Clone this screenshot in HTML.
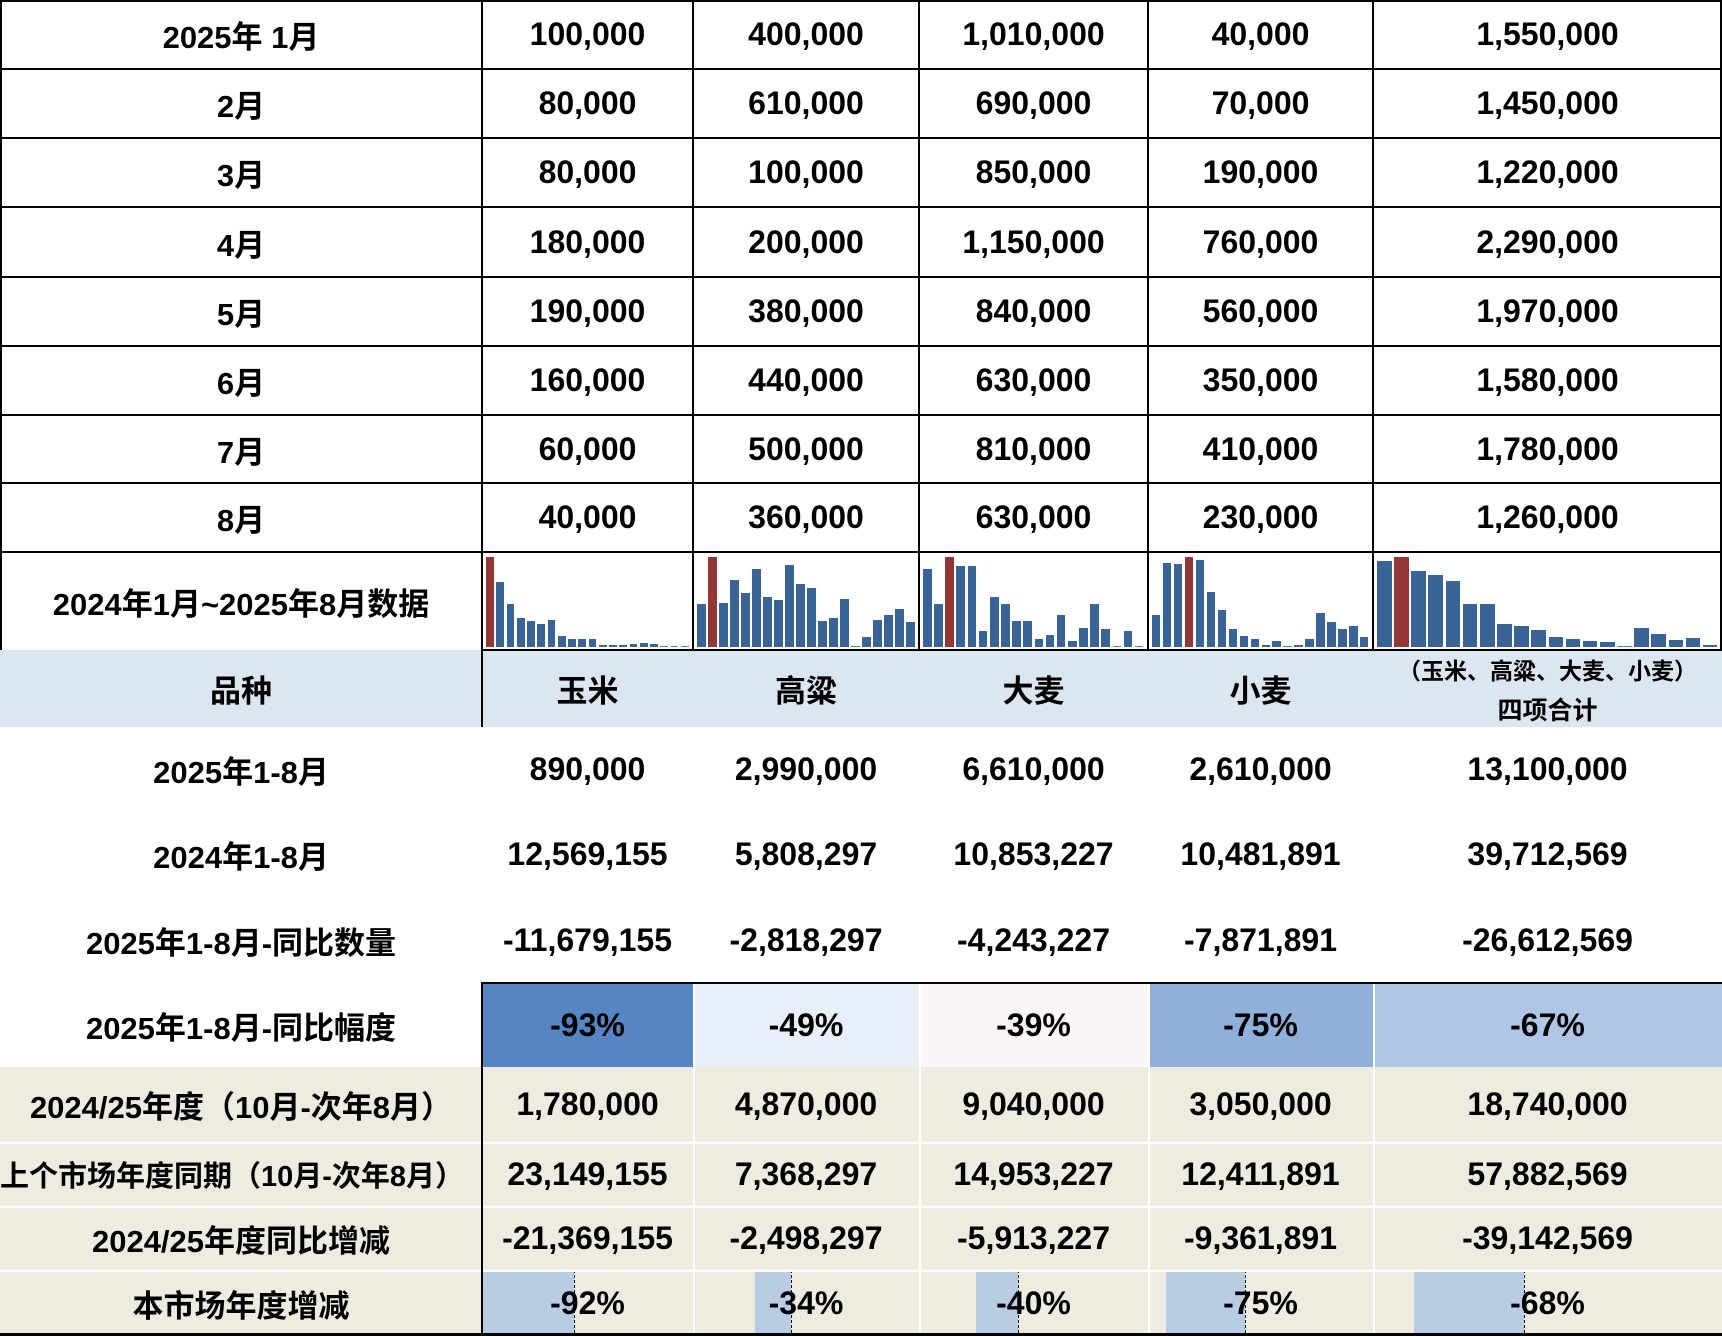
<!DOCTYPE html>
<html><head><meta charset="utf-8">
<style>
*{margin:0;padding:0;box-sizing:border-box}
body{width:1722px;height:1336px;background:#fff;position:relative;overflow:hidden;font-family:"Liberation Sans Narrow","Liberation Sans","Noto Sans CJK SC",sans-serif;font-weight:bold;color:#000}
.a{position:absolute}
.t{position:absolute;display:flex;align-items:center;justify-content:center;font-size:32px;white-space:nowrap}
.c{font-family:"Liberation Sans","Noto Sans CJK SC",sans-serif;font-size:31px}
.h{background:#000;position:absolute;height:2px}
.v{background:#000;position:absolute;width:2px}
</style></head><body>
<div id="root"></div>
<script>
(function(){
var X=[0,482,693,919,1148,1373,1722];
var h='';
function cell(x0,x1,y0,y1,txt,cls,bg,extra){h+='<div class="t '+(cls||'')+'" style="left:'+x0+'px;width:'+(x1-x0)+'px;top:'+y0+'px;height:'+(y1-y0)+'px;'+(bg?'background:'+bg+';':'')+(extra||'')+'">'+txt+'</div>';}
var R=[0,69,138,207,277,346,415,483,552];
var topRows=[["2025年 1月","100,000","400,000","1,010,000","40,000","1,550,000"],["2月","80,000","610,000","690,000","70,000","1,450,000"],["3月","80,000","100,000","850,000","190,000","1,220,000"],["4月","180,000","200,000","1,150,000","760,000","2,290,000"],["5月","190,000","380,000","840,000","560,000","1,970,000"],["6月","160,000","440,000","630,000","350,000","1,580,000"],["7月","60,000","500,000","810,000","410,000","1,780,000"],["8月","40,000","360,000","630,000","230,000","1,260,000"]];
topRows.forEach(function(r,i){r.forEach(function(t,j){cell(X[j],X[j+1],R[i],R[i+1],t,j==0?'c':'')})});
cell(0,482,552,650,"2024年1月~2025年8月数据","c");
h+='<div class="a" style="left:0;top:650px;width:1722px;height:77px;background:#dce6f1"></div>';
["品种","玉米","高粱","大麦","小麦"].forEach(function(t,j){cell(X[j],X[j+1],650,727,t,'c')});
cell(1373,1722,650,688,"（玉米、高粱、大麦、小麦）","c","","font-size:23px");
cell(1373,1722,690,727,"四项合计","c","","font-size:25px");
var mid=[["2025年1-8月","890,000","2,990,000","6,610,000","2,610,000","13,100,000",727,811],["2024年1-8月","12,569,155","5,808,297","10,853,227","10,481,891","39,712,569",811,897],["2025年1-8月-同比数量","-11,679,155","-2,818,297","-4,243,227","-7,871,891","-26,612,569",897,983]];
mid.forEach(function(r){for(var j=0;j<6;j++)cell(X[j],X[j+1],r[6],r[7],r[j],j==0?'c':'')});
var pc=["-93%","-49%","-39%","-75%","-67%"],pb=["#5585c3","#e9eff8","#fcf6fb","#8fb0da","#b0c6e6"];
cell(0,482,983,1067,"2025年1-8月-同比幅度","c");
for(var j=1;j<6;j++)cell(X[j],X[j+1],983,1067,pc[j-1],'',pb[j-1]);
h+='<div class="a" style="left:0;top:1067px;width:1722px;height:269px;background:#eeece1"></div>';
var bot=[["2024/25年度（10月-次年8月）","1,780,000","4,870,000","9,040,000","3,050,000","18,740,000",1067,1142],["上个市场年度同期（10月-次年8月）","23,149,155","7,368,297","14,953,227","12,411,891","57,882,569",1142,1206],["2024/25年度同比增减","-21,369,155","-2,498,297","-5,913,227","-9,361,891","-39,142,569",1206,1270]];
[[482,574],[755,791],[976,1018],[1166,1245],[1414,1524]].forEach(function(b){h+='<div class="a" style="left:'+b[0]+'px;top:1270px;width:'+(b[1]-b[0])+'px;height:63px;background:#b8cce4"></div><div class="a" style="left:'+b[1]+'px;top:1270px;height:63px;border-left:1px dashed #000"></div>'});
for(var j=2;j<6;j++)h+='<div class="a" style="left:'+X[j]+'px;top:983px;width:2px;height:353px;background:#fff"></div>';
[1142,1206,1270].forEach(function(y){h+='<div class="a" style="left:0;top:'+y+'px;width:1722px;height:2px;background:#fff"></div>'});
bot.forEach(function(r,k){for(var j=0;j<6;j++)cell(X[j],X[j+1],r[6],r[7],r[j],j==0?'c':'',"",(j==0&&k==1)?'font-size:29px;justify-content:flex-start;':'')});
cell(0,482,1270,1336,"本市场年度增减","c");
var lp=["-92%","-34%","-40%","-75%","-68%"];
for(var j=1;j<6;j++)cell(X[j],X[j+1],1270,1336,lp[j-1]);
for(var i=0;i<=8;i++)h+='<div class="h" style="left:0;top:'+(R[i]-(i?1:0))+'px;width:1722px"></div>';
h+='<div class="h" style="left:482px;top:649px;width:1240px"></div>';
for(var j=0;j<7;j++){var x=j==6?1720:X[j]-(j?1:0);h+='<div class="v" style="left:'+x+'px;top:0;height:'+(j==1?727:650)+'px"></div>';}
h+='<div class="h" style="left:482px;top:982px;width:1240px"></div>';
h+='<div class="v" style="left:481px;top:982px;height:354px"></div>';
h+='<div class="h" style="left:0;top:1333px;width:1722px;height:3px"></div>';
var sp=[[270,195,128,86,77,68,80,33,25,23,25,6,6,6,10,12,8,2,2,2],[128,270,132,200,162,233,149,140,245,190,176,78,86,143,2,30,80,95,113,75],[233,128,270,243,243,48,150,128,78,78,24,35,95,18,56,128,53,2,48,2],[95,253,248,270,260,165,110,53,32,25,5,18,2,5,23,103,75,53,62,30],[257,270,227,215,197,130,128,68,64,50,30,23,17,14,2,56,38,20,28,5]];
var red=[0,1,2,3,1];
sp.forEach(function(d,k){var x0=X[k+1]+3,w=(X[k+2]-X[k+1]-6)/20;d.forEach(function(v,i){var hh=Math.max(v/270*90,1.5);var col=v<=2?'#3a9a5a':(i==red[k]?'#943634':'#3a6397');h+='<div class="a" style="left:'+(x0+i*w+1)+'px;top:'+(647-hh)+'px;width:'+(w-2.5)+'px;height:'+hh+'px;background:'+col+'"></div>'})});
document.getElementById('root').innerHTML=h;
})();
</script>
</body></html>
